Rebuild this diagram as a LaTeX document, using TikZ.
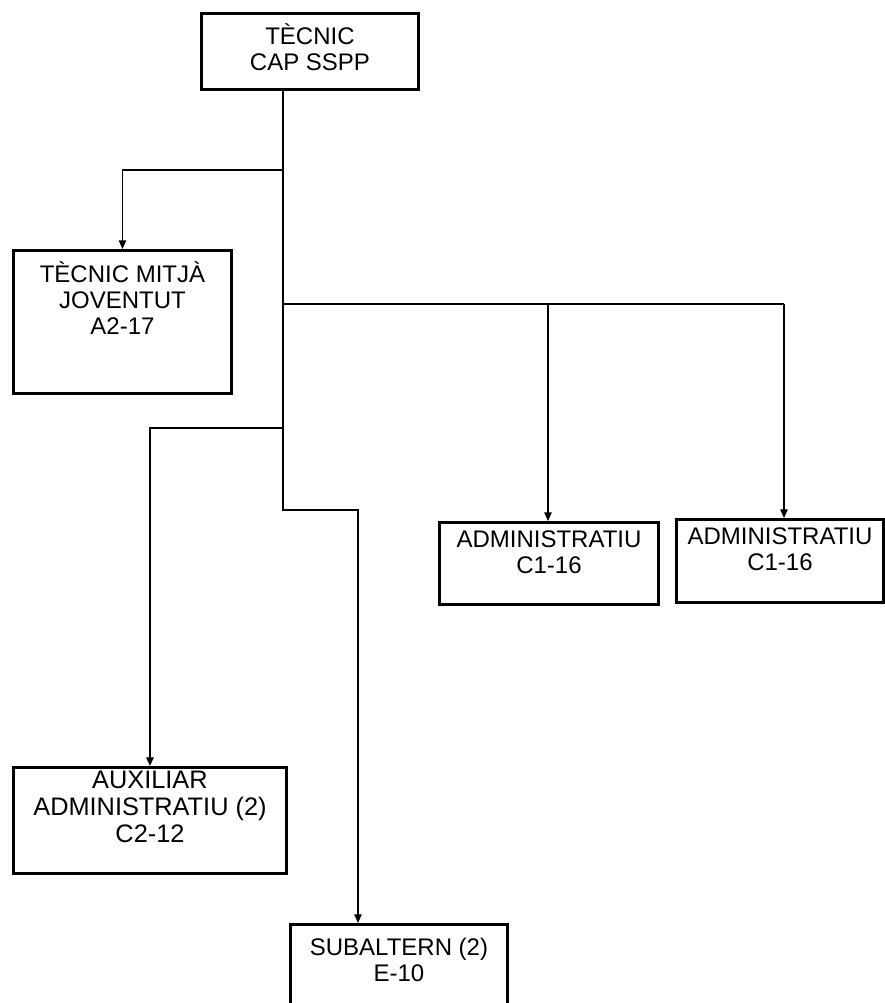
\documentclass[tikz,border=0pt]{standalone}
\usepackage{fontspec}
\setmainfont{Liberation Sans}
\usetikzlibrary{arrows.meta}
\newdimen\pxu \pxu=0.75pt
\newcommand{\boxtxt}[4]{\parbox[c][#2\pxu][t]{#1\pxu}{\centering\rule{0pt}{#3\pxu}#4}}
\tikzset{
  orgbox/.style={draw, line width=2.2pt, inner sep=0pt, anchor=north west,
    font=\fontsize{18}{19.5}\selectfont},
  bigfont/.style={font=\fontsize{19}{20.3}\selectfont},
  thickline/.style={line width=2.2pt},
  midline/.style={line width=1.5pt},
  thinline/.style={line width=1.2pt},
  arr/.style={-{Triangle[length=6.5pt,width=5.5pt]}},
}
\begin{document}
\begin{tikzpicture}[x=0.75pt,y=-0.75pt]
\clip (0,0) rectangle (885,1003);
\fill[white] (0,0) rectangle (885,1003);

% boxes
\node[orgbox] (t) at (200,12) {\boxtxt{217}{76}{31}{TÈCNIC\\CAP SSPP}};
\node[orgbox] (m) at (12,249) {\boxtxt{218}{143}{32}{TÈCNIC MITJÀ\\JOVENTUT\\A2-17}};
\node[orgbox] (a1) at (438,521) {\boxtxt{219}{82}{25}{ADMINISTRATIU\\C1-16}};
\node[orgbox] (a2) at (675,518) {\boxtxt{207}{83}{25}{ADMINISTRATIU\\C1-16}};
\node[orgbox,bigfont] (x) at (12,766) {\boxtxt{273}{106}{21}{AUXILIAR\\ADMINISTRATIU (2)\\C2-12}};
\node[orgbox] (s) at (289,923) {\boxtxt{217}{110}{31}{SUBALTERN (2)\\E-10}};

% junctions
\coordinate (j1) at (283,170);
\coordinate (j2) at (283,304);
\coordinate (j3) at (283,428);
\coordinate (j4) at (283,510);
\coordinate (j5) at (358,510);
\coordinate (c1) at (548,304);
\coordinate (c2) at (784,304);

% trunk
\draw[thickline] (t.south -| j1) -- (j3);
\draw[thickline] (j2) -- (c2);
% branches
\draw[thinline,arr] (j1) -| (m.north);
\draw[thinline,arr] (c1) -- (c1 |- a1.north);
\draw[thinline,arr] (c2) -- (c2 |- a2.north);
\draw[midline,arr] (j3) -| (x.north);
\draw[thinline,arr] (j3) -- (j4) -- (j5) -- (j5 |- s.north);
\end{tikzpicture}
\end{document}
